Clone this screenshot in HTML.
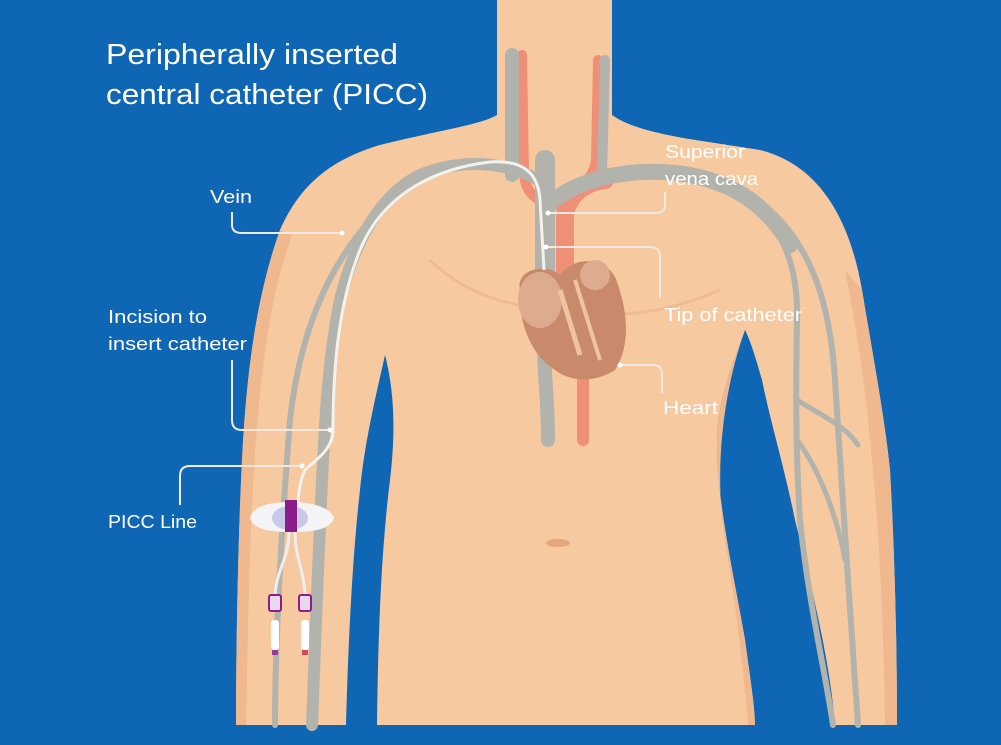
<!DOCTYPE html>
<html><head><meta charset="utf-8"><style>
html,body{margin:0;padding:0;background:#0f66b5;}
svg{display:block}
text{font-family:"Liberation Sans",sans-serif;fill:#fff}
</style></head><body>
<svg width="1001" height="745" viewBox="0 0 1001 745" xmlns="http://www.w3.org/2000/svg">
<rect width="1001" height="745" fill="#0f66b5"/>
<!-- body -->
<path d="M497 0 L612 0 L612 115 C640 135 700 140 760 150 C820 165 850 220 862 290 C872 350 885 420 890 470 C895 560 897 650 897 725 L835 725 C830 660 810 580 795 520 C785 470 770 420 762 380 C755 355 750 340 745 330 C735 360 718 395 717 440 C716 500 735 580 745 640 C752 690 755 710 755 725 L377 725 C378 650 380 560 390 480 C396 430 394 390 385 355 C375 400 365 440 360 490 C352 560 348 650 346 725 L236 725 C236 650 238 540 242 460 C246 380 255 300 280 230 C300 185 330 160 380 145 C440 130 480 125 497 115 Z" fill="#f7c9a0"/>
<path d="M862 290 C872 350 885 420 890 470 C895 560 897 650 897 725 L885 725 C884 640 880 540 872 460 C865 380 855 320 845 270 Z" fill="#f0b88e"/>
<path d="M280 230 C255 300 246 380 242 460 C238 540 236 650 236 725 L246 725 C248 620 250 520 256 440 C262 360 272 290 292 235 Z" fill="#f0b88e"/>
<path d="M745 330 C735 360 718 395 717 440 C716 500 735 580 745 640 C752 690 755 710 755 725 L748 725 C745 680 735 600 725 540 C715 480 720 400 745 330 Z" fill="#f0b88e"/>
<path d="M430 260 C470 300 540 320 600 300" stroke="#efbb92" stroke-width="3" fill="none"/>
<path d="M560 300 C590 320 650 320 720 290" stroke="#efbb92" stroke-width="3" fill="none"/>
<ellipse cx="558" cy="543" rx="12" ry="4" fill="#e3a67d"/>
<!-- arteries -->
<g fill="none" stroke="#ef8f78" stroke-linecap="round">
<path d="M522 55 L524 175 C526 195 540 205 560 205" stroke-width="10"/>
<path d="M598 60 L596 160 C594 175 585 185 575 190" stroke-width="10"/>
<path d="M565 270 L565 215 C568 195 585 182 605 180" stroke-width="18"/>
<path d="M583 330 L583 440" stroke-width="12"/>
</g>
<!-- veins -->
<g fill="none" stroke="#b3b3ad" stroke-linecap="round">
<path d="M512 55 L512 175" stroke-width="14"/>
<path d="M605 60 L602 175" stroke-width="10"/>
<path d="M545 160 L545 275" stroke-width="20"/>
<path d="M548 330 C540 360 548 380 548 440" stroke-width="14"/>
<path d="M545 185 C520 165 470 155 420 175 C380 195 355 240 340 300 C328 360 325 420 322 480 C318 560 315 650 312 725" stroke-width="12"/>
<path d="M380 210 C330 260 300 330 290 420 C282 520 275 640 275 725" stroke-width="6"/>
<path d="M548 205 C575 180 630 165 690 175 C740 185 770 210 790 245" stroke-width="16"/>
<path d="M770 220 C790 250 798 280 797 320 C796 380 795 440 800 520 C808 600 825 670 833 725" stroke-width="6"/>
<path d="M775 215 C810 250 830 300 835 380 C842 480 850 620 858 725" stroke-width="6"/>
<path d="M797 400 C820 415 845 425 858 445" stroke-width="5"/>
<path d="M797 440 C820 470 838 520 845 560" stroke-width="5"/>
</g>
<!-- heart -->
<g>
<path d="M520 290 C515 270 545 262 560 275 C575 255 610 255 618 285 C630 320 628 350 615 370 C600 380 575 385 555 370 C530 355 518 320 520 290 Z" fill="#c98a6c"/>
<ellipse cx="540" cy="300" rx="22" ry="28" fill="#ddac8e"/>
<ellipse cx="595" cy="275" rx="15" ry="15" fill="#ddac8e"/>
<path d="M560 290 L580 355" stroke="#f0c3a0" stroke-width="5" fill="none"/>
<path d="M575 280 L600 360" stroke="#f0c3a0" stroke-width="4" fill="none"/>
</g>
<!-- catheter -->
<path d="M544 270 L540 200 C538 170 520 160 490 162 C440 168 385 190 360 250 C340 300 333 360 333 430 C333 450 315 460 305 470 C300 480 298 495 298 505" stroke="#f2f2ee" stroke-width="3" fill="none"/>
<!-- PICC device -->
<path d="M250 518 C252 507 268 502 290 502 C312 502 330 507 334 518 C330 530 312 532 292 532 C270 532 254 530 250 518 Z" fill="#f4f4f6"/>
<ellipse cx="290" cy="518" rx="18" ry="12" fill="#c8c8e8"/>
<rect x="285" y="500" width="12" height="32" fill="#8a1d8a"/>
<path d="M289 532 C289 560 275 570 275 600" stroke="#eee" stroke-width="3" fill="none"/>
<path d="M295 532 C295 560 305 570 305 600" stroke="#eee" stroke-width="3" fill="none"/>
<rect x="269" y="595" width="12" height="16" rx="2" fill="#e8d8ef" stroke="#8a1d8a" stroke-width="2"/>
<rect x="299" y="595" width="12" height="16" rx="2" fill="#e8d8ef" stroke="#8a1d8a" stroke-width="2"/>
<rect x="271" y="620" width="8" height="30" rx="3" fill="#fff"/>
<rect x="301" y="620" width="8" height="30" rx="3" fill="#fff"/>
<rect x="272" y="650" width="6" height="5" fill="#9a3a9a"/>
<rect x="302" y="650" width="6" height="5" fill="#d84a5a"/>
<!-- connectors -->
<g fill="none" stroke="#f2e8e0" stroke-width="2">
<path d="M232 212 L232 225 Q232 233 242 233 L342 233"/>
<path d="M232 360 L232 420 Q232 430 242 430 L330 430"/>
<path d="M180 505 L180 476 Q180 466 190 466 L302 466"/>
<path d="M665 192 L665 205 Q665 213 655 213 L548 213"/>
<path d="M546 247 L650 247 Q660 247 660 257 L660 298"/>
<path d="M620 365 L653 365 Q662 365 662 375 L662 393"/>
</g>
<g fill="#fff"><circle cx="342" cy="233" r="2.5"/><circle cx="330" cy="430" r="2.5"/><circle cx="302" cy="466" r="2.5"/><circle cx="548" cy="213" r="2.5"/><circle cx="546" cy="247" r="2.5"/><circle cx="620" cy="365" r="2.5"/></g>
<!-- text -->
<text x="106" y="64" font-size="29" textLength="292" lengthAdjust="spacingAndGlyphs">Peripherally inserted</text>
<text x="106" y="104" font-size="29" textLength="322" lengthAdjust="spacingAndGlyphs">central catheter (PICC)</text>
<text x="210" y="203" font-size="18" textLength="42" lengthAdjust="spacingAndGlyphs">Vein</text>
<text x="108" y="323" font-size="18" textLength="99" lengthAdjust="spacingAndGlyphs">Incision to</text>
<text x="108" y="350" font-size="18" textLength="139" lengthAdjust="spacingAndGlyphs">insert catheter</text>
<text x="108" y="528" font-size="18" textLength="89" lengthAdjust="spacingAndGlyphs">PICC Line</text>
<text x="665" y="158" font-size="18" textLength="80" lengthAdjust="spacingAndGlyphs">Superior</text>
<text x="665" y="185" font-size="18" textLength="93" lengthAdjust="spacingAndGlyphs">vena cava</text>
<text x="664" y="321" font-size="18" textLength="138" lengthAdjust="spacingAndGlyphs">Tip of catheter</text>
<text x="663" y="414" font-size="18" textLength="55" lengthAdjust="spacingAndGlyphs">Heart</text>
</svg>
</body></html>
